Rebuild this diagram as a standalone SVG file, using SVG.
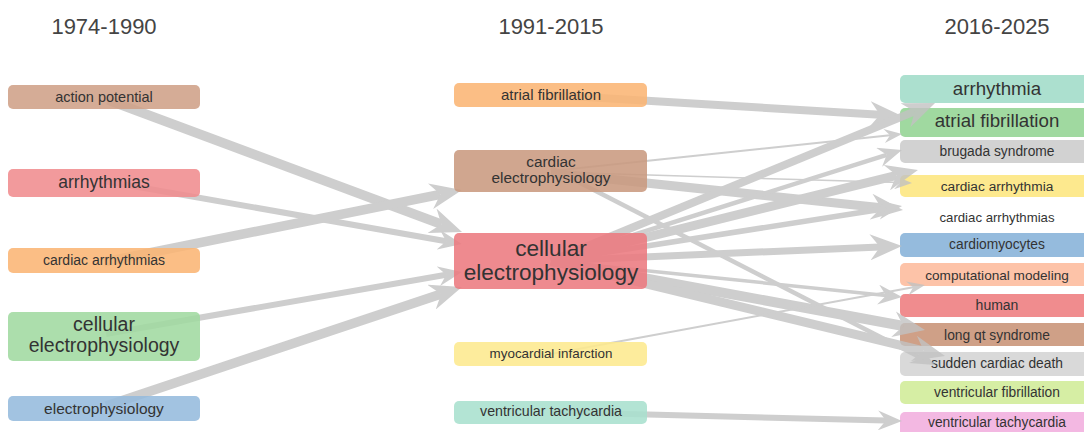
<svg xmlns="http://www.w3.org/2000/svg" width="1084" height="432" viewBox="0 0 1084 432">
<style>
text{font-family:"Liberation Sans",Arial,sans-serif;fill:#333;text-anchor:middle}
.title{font-size:22px;fill:#444}
.nl rect{fill-opacity:0.88}
.e{stroke:#c2c2c2;fill:none;stroke-linecap:butt}
.L{marker-end:url(#ahL)}
.M{marker-end:url(#ahM)}
.S{marker-end:url(#ahS)}
</style>
<defs>
<marker id="ahL" markerUnits="userSpaceOnUse" viewBox="0 0 32 26" markerWidth="32" markerHeight="26" refX="10" refY="13" orient="auto"><path d="M0,0 L32,13 L0,26 L10,13 z" fill="#c2c2c2"/></marker>
<marker id="ahM" markerUnits="userSpaceOnUse" viewBox="0 0 24 20" markerWidth="24" markerHeight="20" refX="8" refY="10" orient="auto"><path d="M0,0 L24,10 L0,20 L8,10 z" fill="#c2c2c2"/></marker>
<marker id="ahS" markerUnits="userSpaceOnUse" viewBox="0 0 18 14" markerWidth="18" markerHeight="14" refX="6" refY="7" orient="auto"><path d="M0,0 L18,7 L0,14 L6,7 z" fill="#c2c2c2"/></marker>
</defs>
<rect width="1084" height="432" fill="#fff"/>
<g id="titles">
<text class="title" x="104" y="34">1974-1990</text>
<text class="title" x="551" y="34">1991-2015</text>
<text class="title" x="997" y="34">2016-2025</text>
</g>
<!-- right column (under connectors) -->
<g id="r-arrhythmia"><rect x="900" y="75" width="193" height="28" rx="5" fill="#ace0cf"/><text x="997" y="95" font-size="18.7">arrhythmia</text></g>
<g id="r-atrial-fibrillation"><rect x="900" y="108" width="193" height="29" rx="5" fill="#a0d9a0"/><text x="997" y="127" font-size="18.7">atrial fibrillation</text></g>
<g id="r-brugada-syndrome"><rect x="900" y="140" width="193" height="23" rx="5" fill="#d2d2d2"/><text x="997" y="155.5" font-size="13.8">brugada syndrome</text></g>
<g id="r-cardiac-arrhythmia"><rect x="900" y="175" width="193" height="22" rx="5" fill="#fde98e"/><text x="997" y="190.5" font-size="13.7">cardiac arrhythmia</text></g>
<g id="r-cardiac-arrhythmias"><rect x="900" y="204" width="193" height="23" rx="5" fill="#ffffff"/><text x="997" y="222" font-size="13.2">cardiac arrhythmias</text></g>
<g id="r-cardiomyocytes"><rect x="900" y="233" width="193" height="24" rx="5" fill="#95bbdd"/><text x="997" y="248.5" font-size="13.8">cardiomyocytes</text></g>
<g id="r-computational-modeling"><rect x="900" y="263" width="193" height="23" rx="5" fill="#fdc3a8"/><text x="997" y="279.5" font-size="13.6">computational modeling</text></g>
<g id="r-human"><rect x="900" y="294" width="193" height="23" rx="5" fill="#f08c8e"/><text x="997" y="310" font-size="14">human</text></g>
<g id="r-long-qt-syndrome"><rect x="900" y="323" width="193" height="23" rx="5" fill="#cfa087"/><text x="997" y="339.5" font-size="13.8">long qt syndrome</text></g>
<g id="r-sudden-cardiac-death"><rect x="900" y="352" width="193" height="24" rx="5" fill="#d9d9d9"/><text x="997" y="367.5" font-size="13.8">sudden cardiac death</text></g>
<g id="r-ventricular-fibrillation"><rect x="900" y="381" width="193" height="23" rx="5" fill="#d6eea4"/><text x="997" y="397" font-size="13.8">ventricular fibrillation</text></g>
<g id="r-ventricular-tachycardia"><rect x="900" y="412" width="193" height="24" rx="5" fill="#f3b8e2"/><text x="997" y="427" font-size="13.8">ventricular tachycardia</text></g>
<g id="connectors" opacity="0.8">
<line class="e L" x1="108" y1="100" x2="441.4" y2="224.3" stroke-width="9.5"/>
<line class="e M" x1="104" y1="181" x2="446.2" y2="241.2" stroke-width="6"/>
<line class="e L" x1="104" y1="262" x2="440.4" y2="194.3" stroke-width="9.5"/>
<line class="e M" x1="106" y1="334" x2="446.2" y2="274.8" stroke-width="6"/>
<line class="e L" x1="106" y1="406" x2="441.1" y2="294" stroke-width="9.5"/>
<line class="e L" x1="551" y1="95" x2="880" y2="114.7" stroke-width="8"/>
<line class="e S" x1="551" y1="171" x2="890.1" y2="135.3" stroke-width="2"/>
<line class="e S" x1="551" y1="172" x2="900" y2="182.6" stroke-width="1.5"/>
<line class="e L" x1="551" y1="173" x2="881.1" y2="207.7" stroke-width="9"/>
<line class="e M" x1="551" y1="168" x2="920.8" y2="357.7" stroke-width="4.5"/>
<line class="e L" x1="551" y1="261" x2="914.7" y2="111.4" stroke-width="8"/>
<line class="e M" x1="551" y1="261" x2="886.7" y2="154.8" stroke-width="4.5"/>
<line class="e L" x1="551" y1="261" x2="896.6" y2="175.3" stroke-width="9"/>
<line class="e M" x1="551" y1="261" x2="886.2" y2="208.5" stroke-width="5.5"/>
<line class="e L" x1="551" y1="261" x2="880" y2="246.9" stroke-width="7"/>
<line class="e M" x1="551" y1="261" x2="886.1" y2="295.4" stroke-width="3.5"/>
<line class="e L" x1="551" y1="261" x2="903.4" y2="326" stroke-width="10"/>
<line class="e L" x1="551" y1="261" x2="923.6" y2="350.8" stroke-width="9"/>
<line class="e S" x1="551" y1="354" x2="913.2" y2="287.2" stroke-width="2"/>
<line class="e M" x1="551" y1="412" x2="886" y2="420.6" stroke-width="6"/>
</g>
<!-- left column -->
<g id="l-action-potential" class="nl"><rect x="8" y="85" width="192" height="24" rx="5" fill="#cfa087"/><text x="104" y="102.3" font-size="14.5">action potential</text></g>
<g id="l-arrhythmias" class="nl"><rect x="8" y="169" width="192" height="28" rx="5" fill="#f08c8e"/><text x="104" y="187.5" font-size="17.5">arrhythmias</text></g>
<g id="l-cardiac-arrhythmias" class="nl"><rect x="8" y="248" width="192" height="25" rx="5" fill="#fbb574"/><text x="104" y="264.5" font-size="14">cardiac arrhythmias</text></g>
<g id="l-cellular-electrophysiology" class="nl"><rect x="8" y="312" width="192" height="49" rx="5" fill="#a0d9a0"/><text x="104" y="331" font-size="19.5">cellular</text><text x="104" y="352" font-size="19.5">electrophysiology</text></g>
<g id="l-electrophysiology" class="nl"><rect x="8" y="396" width="192" height="25" rx="5" fill="#95bbdd"/><text x="104" y="414" font-size="15.5">electrophysiology</text></g>
<!-- middle column -->
<g id="m-atrial-fibrillation" class="nl"><rect x="454" y="83" width="193" height="24" rx="5" fill="#fbb574"/><text x="551" y="100.3" font-size="15">atrial fibrillation</text></g>
<g id="m-cardiac-electrophysiology" class="nl"><rect x="454" y="150" width="193" height="42" rx="5" fill="#c99a80"/><text x="551" y="167" font-size="15.4">cardiac</text><text x="551" y="183" font-size="15.4">electrophysiology</text></g>
<g id="m-cellular-electrophysiology" class="nl"><rect x="454" y="233" width="193" height="56" rx="5" fill="#ec7a80"/><text x="551" y="256" font-size="22.6">cellular</text><text x="551" y="279.5" font-size="22.6">electrophysiology</text></g>
<g id="m-myocardial-infarction" class="nl"><rect x="454" y="342" width="193" height="24" rx="5" fill="#fde98e"/><text x="551" y="358" font-size="13.4">myocardial infarction</text></g>
<g id="m-ventricular-tachycardia" class="nl"><rect x="454" y="401" width="193" height="23" rx="5" fill="#a8e0ce"/><text x="551" y="416" font-size="14.2">ventricular tachycardia</text></g>
</svg>
